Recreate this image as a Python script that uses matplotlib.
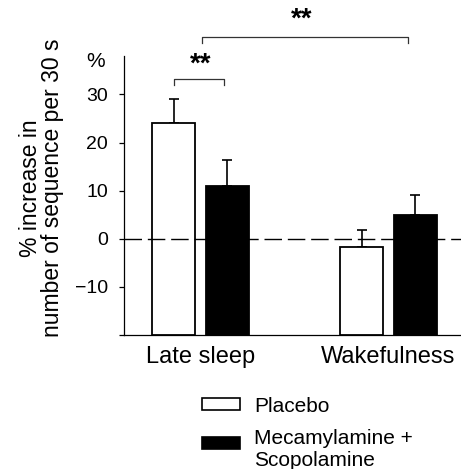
import matplotlib
matplotlib.use("Agg")
import matplotlib.pyplot as plt
from matplotlib.patches import Patch, Rectangle
from matplotlib.legend_handler import HandlerPatch
import numpy as np

plt.rcParams['font.family'] = ['Liberation Sans', 'DejaVu Sans']

conditions = ["Late sleep", "Wakefulness"]
placebo = [24.0, -1.8]
placebo_err = [5.0, 3.7]
drug = [11.0, 5.0]
drug_err = [5.3, 4.0]
series_labels = ["Placebo", "Mecamylamine +\nScopolamine"]
yticks = [-20, -10, 0, 10, 20, 30]
yticklabels = ["", "\u221210", "0", "10", "20", "30"]
baseline = -20

W, H = 461, 469
fig = plt.figure(figsize=(W / 100, H / 100), dpi=100)
ax = fig.add_axes([124 / W, 1 - 335 / H, (461 - 124) / W, (335 - 56) / H])

x = np.arange(len(conditions))
off = 0.142
bw = 0.229

ax.bar(x - off, np.array(placebo) - baseline, bw, bottom=baseline, color="white",
       edgecolor="black", linewidth=1.3, zorder=3)
ax.bar(x + off, np.array(drug) - baseline, bw, bottom=baseline, color="black",
       edgecolor="black", linewidth=1.3, zorder=3)
ax.errorbar(x - off, placebo, yerr=[np.zeros(len(x)), placebo_err], fmt="none",
            ecolor="black", elinewidth=1.2, capsize=3.3, capthick=1.2, zorder=2)
ax.errorbar(x + off, drug, yerr=[np.zeros(len(x)), drug_err], fmt="none",
            ecolor="black", elinewidth=1.2, capsize=3.3, capthick=1.2, zorder=2)

ax.axhline(0, color="black", linewidth=1.0, linestyle=(0, (12.6, 4.2)), zorder=4)

ax.set_xlim(-0.407, 1.386)
ax.set_ylim(baseline, 38)
ax.set_yticks(yticks)
ax.set_yticklabels(yticklabels, fontsize=14)
ax.set_xticks(x)
ax.set_xticklabels(conditions, fontsize=17)
ax.tick_params(axis="x", length=0, pad=8)
ax.tick_params(axis="y", length=3.6, width=0.9, direction="out", pad=8)
for s in ["top", "right"]:
    ax.spines[s].set_visible(False)
for s in ["left", "bottom"]:
    ax.spines[s].set_linewidth(0.9)

ax.set_ylabel("% increase in\nnumber of sequence per 30 s", fontsize=16.5, linespacing=0.95)
ax.yaxis.set_label_coords(-0.178, 0.527)
ax.text(-0.083, 0.98, "%", transform=ax.transAxes, fontsize=15, ha="center", va="center")

# significance brackets
bc = "#333333"
ax.plot([-0.142, -0.142, 0.125, 0.125], [31.9, 33.3, 33.3, 31.9], color=bc, lw=0.9, clip_on=False)
ax.text(0.003, 36.3, "**", fontsize=20, fontweight="bold", ha="center", va="center")
ax.plot([0.008, 0.008, 1.104, 1.104], [40.8, 41.9, 41.9, 40.8], color=bc, lw=0.9, clip_on=False)
ax.text(0.54, 45.6, "**", fontsize=20, fontweight="bold", ha="center", va="center", clip_on=False)


def raised_patch(shift):
    def make(legend, orig_handle, xdescent, ydescent, width, height, fontsize):
        return Rectangle((-xdescent, -ydescent + shift), width, height)
    return make


handles = [Patch(facecolor="white", edgecolor="black", linewidth=1.2),
           Patch(facecolor="black", edgecolor="black", linewidth=1.2)]
leg = fig.legend(handles, series_labels, loc="upper left",
                 bbox_to_anchor=(202 / W, 1 - 397 / H), frameon=False, fontsize=15,
                 handlelength=1.82, handleheight=0.5, handletextpad=0.67,
                 labelspacing=0.62, borderpad=0, borderaxespad=0,
                 handler_map={handles[0]: HandlerPatch(patch_func=raised_patch(0.5)),
                              handles[1]: HandlerPatch(patch_func=raised_patch(4.5))})
for t in leg.get_texts():
    t.set_linespacing(1.2)

fig.savefig("out.png", dpi=100)
